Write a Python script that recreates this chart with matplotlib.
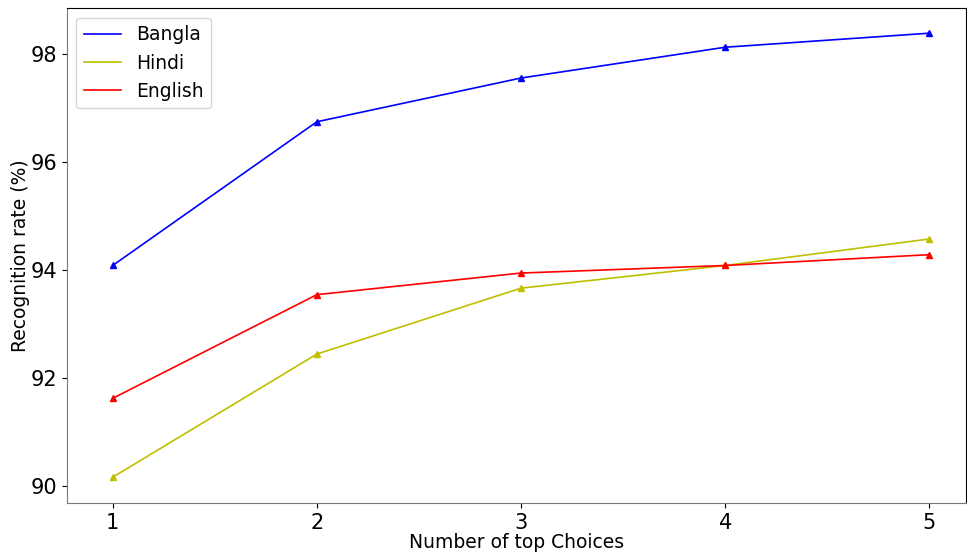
import matplotlib
matplotlib.use('Agg')
import matplotlib.pyplot as plt

choices = [1, 2, 3, 4, 5]
bangla = [94.09, 96.75, 97.56, 98.13, 98.39]
hindi = [90.17, 92.45, 93.67, 94.09, 94.58]
english = [91.63, 93.55, 93.95, 94.09, 94.29]

fig = plt.figure(figsize=(9.67, 5.56), dpi=100)
ax = fig.add_axes([0.069, 0.095, 0.93, 0.89])

# lines carry the legend, markers drawn separately
for vals, c, name in [(bangla, 'b', 'Bangla'), (hindi, 'y', 'Hindi'), (english, 'r', 'English')]:
    ax.plot(choices, vals, c + '-', label=name, linewidth=1.2)
    ax.plot(choices, vals, c + '^', markersize=5)

ax.set_xlim(0.775, 5.18)
ax.set_ylim(89.69, 98.85)
ax.set_xticks(choices)
ax.set_yticks([90, 92, 94, 96, 98])
ax.tick_params(labelsize=15)
ax.set_xlabel('Number of top Choices', fontsize=13.5, labelpad=0)
ax.set_ylabel('Recognition rate (%)', fontsize=13.5, labelpad=0)
for s in ['left', 'bottom']:
    ax.spines[s].set_color('#777777')
ax.legend(loc='upper left', fontsize=13.5)

fig.savefig('out.png', dpi=100)
